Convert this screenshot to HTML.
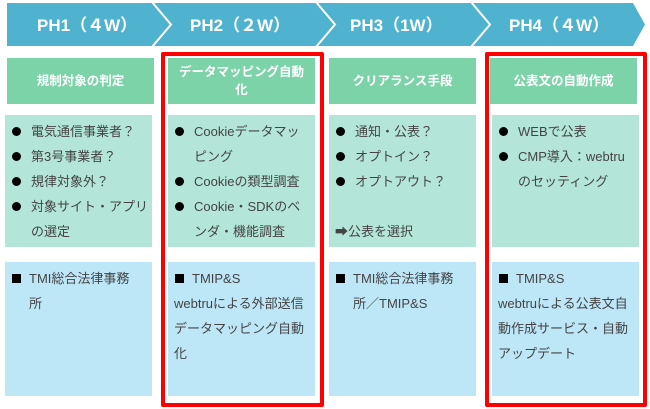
<!DOCTYPE html>
<html><head><meta charset="utf-8"><style>
body{margin:0;width:650px;height:409px;background:#fff;position:relative;overflow:hidden;font-family:"Liberation Sans","Noto Sans CJK JP",sans-serif}
.a{position:absolute;box-sizing:border-box}
.g{background:#7dd3a8;color:#fff;font-weight:bold;font-size:12.5px;text-align:center;display:flex;align-items:center;justify-content:center;line-height:18px;padding:0 10px}
.m,.b{color:#444;font-size:13px;padding:4px 6px 0 6px}
.m{background:#b3e6d8}.b{background:#bde6f7}
.m div,.b div{height:25px;line-height:25px;white-space:nowrap;position:relative}
.li{padding-left:20px}
.li:before{content:"";position:absolute;left:1px;top:8px;width:9px;height:9px;border-radius:50%;background:#000}
.sq{padding-left:18px}
.sq:before{content:"";position:absolute;left:1px;top:8px;width:9px;height:9px;background:#000}
.r{border:4px solid #f00;border-radius:2px}
</style></head><body>
<svg class="a" style="left:0;top:0" width="650" height="50">
<polygon points="7,3 633,3 645,24.5 633,46 7,46" fill="#4fb3cf"/>
<g stroke="#fff" stroke-width="2" fill="none">
<polyline points="152,2 171,24.5 152,47"/>
<polyline points="316,2 335,24.5 316,47"/>
<polyline points="471,2 490,24.5 471,47"/>
</g>
<g fill="#fff" font-weight="bold" font-size="17" font-family="Liberation Sans,Noto Sans CJK JP,sans-serif">
<text x="37" y="31">PH1（４W）</text>
<text x="190" y="31">PH2（２W）</text>
<text x="350" y="31">PH3（1W）</text>
<text x="509" y="31">PH4（４W）</text>
</g>
</svg>
<div class="a g" style="left:7px;top:58px;width:147px;height:46px">規制対象の判定</div>
<div class="a g" style="left:168px;top:58px;width:147px;height:46px">データマッピング自動化</div>
<div class="a g" style="left:329px;top:58px;width:147px;height:46px">クリアランス手段</div>
<div class="a g" style="left:490px;top:58px;width:147px;height:46px">公表文の自動作成</div>

<div class="a m" style="left:5px;top:115px;width:147px;height:132px"><div class="li">電気通信事業者？</div><div class="li">第3号事業者？</div><div class="li">規律対象外？</div><div class="li">対象サイト・アプリ</div><div style="padding-left:20px">の選定</div></div>
<div class="a m" style="left:168px;top:115px;width:147px;height:132px"><div class="li">Cookieデータマッ</div><div style="padding-left:20px">ピング</div><div class="li">Cookieの類型調査</div><div class="li">Cookie・SDKのベ</div><div style="padding-left:20px">ンダ・機能調査</div></div>
<div class="a m" style="left:329px;top:115px;width:147px;height:132px"><div class="li">通知・公表？</div><div class="li">オプトイン？</div><div class="li">オプトアウト？</div><div></div><div>➡公表を選択</div></div>
<div class="a m" style="left:492px;top:115px;width:147px;height:132px"><div class="li">WEBで公表</div><div class="li">CMP導入：webtru</div><div style="padding-left:20px">のセッティング</div></div>

<div class="a b" style="left:5px;top:262px;width:147px;height:134px"><div class="sq">TMI総合法律事務</div><div style="padding-left:18px">所</div></div>
<div class="a b" style="left:168px;top:262px;width:147px;height:134px"><div class="sq">TMIP&amp;S</div><div>webtruによる外部送信</div><div>データマッピング自動</div><div>化</div></div>
<div class="a b" style="left:329px;top:262px;width:147px;height:134px"><div class="sq">TMI総合法律事務</div><div style="padding-left:18px">所／TMIP&amp;S</div></div>
<div class="a b" style="left:492px;top:262px;width:147px;height:134px"><div class="sq">TMIP&amp;S</div><div>webtruによる公表文自</div><div>動作成サービス・自動</div><div>アップデート</div></div>

<div class="a r" style="left:161px;top:52px;width:163px;height:355px"></div>
<div class="a r" style="left:485px;top:52px;width:162px;height:355px"></div>
</body></html>
